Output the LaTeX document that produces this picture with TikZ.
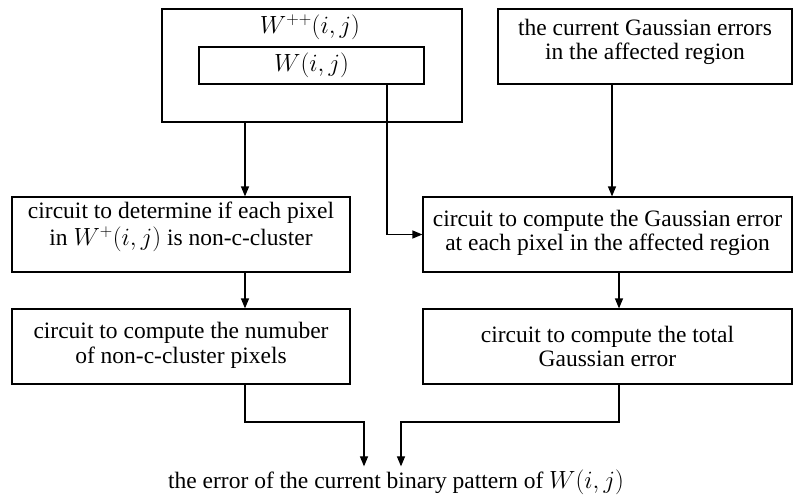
\documentclass[tikz,border=0pt]{standalone}
\usepackage{fontspec}
\setmainfont{Liberation Serif}
\usetikzlibrary{arrows.meta}
\begin{document}
\begin{tikzpicture}[x=1pt,y=-1pt,
  box/.style={draw,line width=1.2pt,rectangle,inner sep=0pt},
  txt/.style={align=center,font=\fontsize{23.5}{24.5}\selectfont,inner sep=0pt},
  arr/.style={line width=1.2pt,-{Triangle[length=10pt,width=8pt]}}]
\useasboundingbox (0,0) rectangle (793,498);
% boxes
\node[box,minimum width=300pt,minimum height=113pt] (Wpp) at (312,65.5) {};
\node[box,minimum width=225pt,minimum height=37pt] (W) at (311.5,65.5) {};
\node[box,minimum width=294pt,minimum height=75pt] (TR) at (645,46.5) {};
\node[box,minimum width=338pt,minimum height=75pt] (L1) at (181,234.5) {};
\node[box,minimum width=369pt,minimum height=75pt] (R1) at (607.5,234.5) {};
\node[box,minimum width=338pt,minimum height=75pt] (L2) at (181,346.5) {};
\node[box,minimum width=369pt,minimum height=75pt] (R2) at (607.5,346.5) {};
% texts
\node[txt] (tWpp) at (310,27) {$W^{++}(i,j)$};
\node[txt] (tW) at (311.5,65.5) {$W(i,j)$};
\node[txt] (tTR) at (645,42) {the current Gaussian errors\\in the affected region};
\node[txt,font=\fontsize{23.5}{26.5}\selectfont] (tL1) at (181,227) {circuit to determine if each pixel\\in $W^{+}(i,j)$ is non-c-cluster};
\node[txt] (tR1) at (607.5,233) {circuit to compute the Gaussian error\\at each pixel in the affected region};
\node[txt] (tL2) at (181,345.5) {circuit to compute the numuber\\of non-c-cluster pixels};
\node[txt] (tR2) at (607.5,346.5) {circuit to compute the total\\Gaussian error};
\node[txt,inner ysep=3pt] (out) at (396,482) {the error of the current binary pattern of $W(i,j)$};
% connector positions
\coordinate (xa) at (245,0);
\coordinate (xb) at (387,0);
\coordinate (xc) at (612,0);
\coordinate (xd) at (619,0);
\coordinate (xe) at (364,0);
\coordinate (xf) at (401,0);
\coordinate (ya) at (0,422);
% connectors
\draw[arr] (Wpp.south -| xa) -- (L1.north -| xa);
\draw[arr] (W.south -| xb) |- (R1.west);
\draw[arr] (TR.south -| xc) -- (R1.north -| xc);
\draw[arr] (L1.south -| xa) -- (L2.north -| xa);
\draw[arr] (R1.south -| xd) -- (R2.north -| xd);
\draw[arr] (L2.south -| xa) |- (ya -| xe) -- (out.north -| xe);
\draw[arr] (R2.south -| xd) |- (ya -| xf) -- (out.north -| xf);
\end{tikzpicture}
\end{document}
